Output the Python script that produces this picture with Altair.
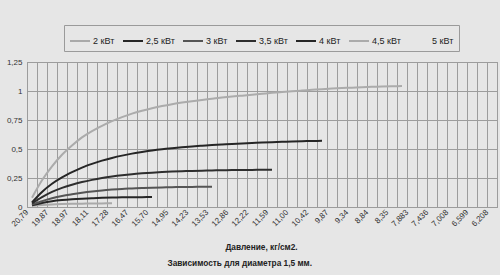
import json
import altair as alt
import pandas as pd

# Pressure tick labels (every other category)
pressure_labels = ["20,79", "19,87", "18,97", "18,11", "17,28", "16,47", "15,70", "14,95",
                   "14,23", "13,53", "12,86", "12,22", "11,59", "11,00", "10,42", "9,87",
                   "9,34", "8,84", "8,35", "7,883", "7,436", "7,008", "6,599", "6,208"]
n_categories = 47

series_names = ["2 кВт", "2,5 кВт", "3 кВт", "3,5 кВт", "4 кВт", "4,5 кВт", "5 кВт"]
series_colors = ["#a9a9a9", "#262626", "#555555", "#2e2e2e", "#262626", "#ababab", "#e6e6e6"]

s_2 = [0.01, 0.017, 0.022, 0.025, 0.027, 0.029, 0.030, 0.031, 0.032]
s_25 = [0.015, 0.035, 0.05, 0.06, 0.067, 0.072, 0.076, 0.079, 0.081, 0.083, 0.084, 0.085, 0.086]
s_3 = [0.02, 0.05, 0.075, 0.095, 0.11, 0.123, 0.134, 0.143, 0.15, 0.156, 0.16, 0.164,
       0.167, 0.169, 0.171, 0.172, 0.173, 0.174, 0.175]
s_35 = [0.03, 0.085, 0.13, 0.165, 0.192, 0.215, 0.234, 0.25, 0.263, 0.274, 0.283, 0.29,
        0.296, 0.301, 0.305, 0.308, 0.311, 0.313, 0.315, 0.317, 0.318, 0.319, 0.32, 0.321, 0.322]
s_4 = [0.04, 0.13, 0.2, 0.255, 0.3, 0.34, 0.372, 0.4, 0.423, 0.443, 0.46, 0.474, 0.487,
       0.498, 0.507, 0.515, 0.522, 0.528, 0.534, 0.539, 0.544, 0.548, 0.552, 0.556, 0.559,
       0.562, 0.565, 0.567, 0.569, 0.571]
s_45 = [0.08, 0.23, 0.35, 0.45, 0.53, 0.60, 0.655, 0.70, 0.74, 0.775, 0.805, 0.83, 0.852,
        0.87, 0.886, 0.9, 0.912, 0.923, 0.933, 0.943, 0.952, 0.96, 0.968, 0.976, 0.984,
        0.991, 0.998, 1.004, 1.01, 1.016, 1.021, 1.025, 1.029, 1.033, 1.036, 1.039, 1.041, 1.043]
s_5 = []

all_series = [s_2, s_25, s_3, s_35, s_4, s_45, s_5]
rows = []
for name, vals in zip(series_names, all_series):
    for i, v in enumerate(vals):
        rows.append({"idx": i, "series": name, "value": v})
df = pd.DataFrame(rows)

FONT = "Liberation Sans"
BG = "#e6e6e6"

labels_js = json.dumps(pressure_labels, ensure_ascii=False)
n_lab = len(pressure_labels)
label_expr = (f"(datum.value + 0.5) % 2 == 0 && (datum.value + 0.5) / 2 < {n_lab} "
              f"? {labels_js}[(datum.value + 0.5) / 2] : ''")

x_axis = alt.Axis(
    values=[k - 0.5 for k in range(n_categories + 1)],
    labelExpr=label_expr,
    labelAngle=-45, labelAlign="right", labelBaseline="middle",
    labelOverlap=False, labelFlush=False, labelBound=False,
    labelFontSize=8, labelColor="#333333", labelFont=FONT, labelPadding=4,
    ticks=False, domain=False,
    grid=True, gridColor="#9c9c9c", gridWidth=1,
    title="Давление, кг/см2.", titleFont=FONT, titleFontSize=8.3, titleFontWeight="bold",
    titleColor="#222222", titleX=234, titleY=40, titleAnchor="middle", titleBaseline="middle",
)

y_axis = alt.Axis(
    values=[0, 0.25, 0.5, 0.75, 1.0, 1.25],
    labelExpr="replace(format(datum.value, ''), '.', ',')",
    labelFontSize=8, labelColor="#333333", labelFont=FONT, labelPadding=5,
    ticks=False, domain=False,
    grid=True, gridColor="#9c9c9c", gridWidth=1, title=None,
)

chart = alt.Chart(df).mark_line(strokeWidth=2, interpolate="monotone").encode(
    x=alt.X("idx:Q", scale=alt.Scale(domain=[-0.5, n_categories - 0.5], nice=False, zero=False), axis=x_axis),
    y=alt.Y("value:Q", scale=alt.Scale(domain=[0, 1.25], nice=False), axis=y_axis),
    color=alt.Color(
        "series:N",
        scale=alt.Scale(domain=series_names, range=series_colors),
        legend=alt.Legend(
            orient="none", legendX=37, legendY=-37, direction="horizontal", columns=7,
            title=None, symbolType="stroke", symbolSize=400, symbolStrokeWidth=2,
            labelFont=FONT, labelFontSize=9, labelColor="#222222", labelOffset=2,
            columnPadding=4, padding=5, strokeColor="#9a9a9a",
        ),
    ),
    detail="series:N",
).properties(
    width=470, height=145,
    title=alt.TitleParams(
        text="Зависимость для диаметра 1,5 мм.", orient="bottom", anchor="start",
        font=FONT, fontSize=8.3, fontWeight="bold", color="#222222", dx=161, offset=9,
    ),
    autosize=alt.AutoSizeParams(type="none"),
    padding={"left": 27, "top": 62, "right": 3, "bottom": 68},
    background=BG,
).configure_view(stroke="#8f8f8f", fill=BG)

chart.save("out.html", embed_options={"renderer": "svg", "actions": False})
